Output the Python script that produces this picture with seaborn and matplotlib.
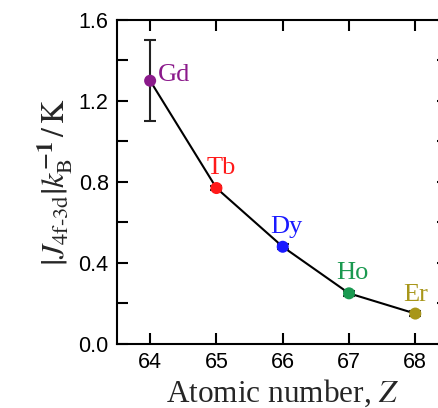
import matplotlib
matplotlib.use("Agg")
import matplotlib.pyplot as plt
import seaborn as sns
import pandas as pd

elements = ["Gd", "Tb", "Dy", "Ho", "Er"]
Z = [64, 65, 66, 67, 68]
J = [1.30, 0.77, 0.48, 0.25, 0.15]
J_err = [0.20, 0.012, 0.012, 0.012, 0.012]
colors = ["#8B1A8B", "#FF1A1A", "#1A1AFF", "#1A9950", "#A8961A"]
yticks = [0.0, 0.4, 0.8, 1.2, 1.6]
ytick_labels = ["0.0", "0.4", "0.8", "1.2", "1.6"]
yminor = [0.2, 0.6, 1.0, 1.4]

df = pd.DataFrame({"Z": Z, "J": J, "element": elements})

sns.set_theme(style="ticks")
plt.rcParams["font.family"] = ["Liberation Sans", "DejaVu Sans"]
plt.rcParams["mathtext.fontset"] = "stix"

fig = plt.figure(figsize=(4.39, 4.08), dpi=100)
ax = fig.add_axes([0.2665, 0.157, 0.755, 0.794])

sns.lineplot(data=df, x="Z", y="J", color="black", linewidth=1.5, ax=ax, zorder=2)
ax.errorbar(Z, J, yerr=J_err, fmt="none", ecolor="#222222", elinewidth=1.5,
            capsize=4, capthick=1.5, zorder=3)
sns.scatterplot(data=df, x="Z", y="J", hue="element", palette=colors, s=75,
                edgecolor="none", legend=False, ax=ax, zorder=4)

offsets = {"Gd": (0.11, 0.03, "left"), "Tb": (0.08, 0.10, "center"),
           "Dy": (0.05, 0.10, "center"), "Ho": (0.05, 0.10, "center"),
           "Er": (0.0, 0.09, "center")}
for el, z, j, c in zip(elements, Z, J, colors):
    dx, dy, ha = offsets[el]
    ax.text(z + dx, j + dy, el, color=c, fontsize=19, ha=ha, va="center",
            family="Liberation Serif")

ax.set_xlim(63.5, 68.5)
ax.set_ylim(0, 1.6)
ax.set_xticks(Z)
ax.set_yticks(yticks)
ax.set_yticklabels(ytick_labels)
ax.set_yticks(yminor, minor=True)
ax.tick_params(which="both", direction="in", top=True, right=True,
               width=1.5, labelsize=15.5, colors="black", pad=6)
ax.tick_params(which="major", length=8)
ax.tick_params(which="minor", length=8)
for s in ax.spines.values():
    s.set_linewidth(1.5)
    s.set_color("black")

ax.set_xlabel(r"Atomic number, $Z$", fontsize=22.5, family="Liberation Serif", labelpad=3)
ax.set_ylabel(r"$\left|J_{\mathrm{4f\text{-}3d}}\right|k_{\mathrm{B}}^{\mathbf{-1}}\,/\,\mathrm{K}$",
              fontsize=23, labelpad=2)

fig.savefig("out.png", dpi=100)
